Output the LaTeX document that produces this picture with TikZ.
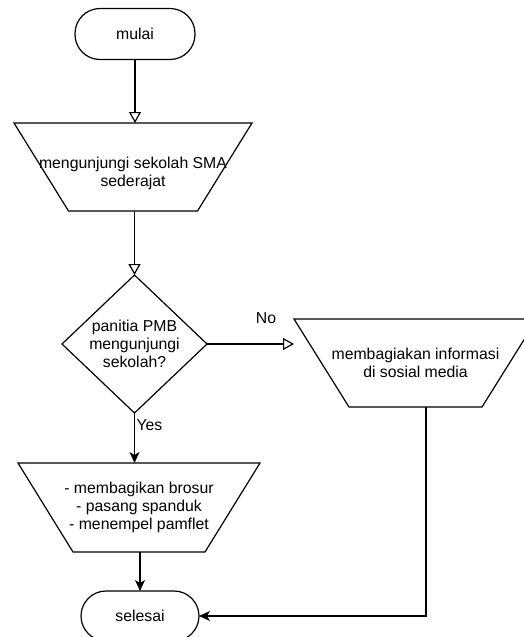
\documentclass[tikz,border=0pt]{standalone}
\usepackage{fontspec}
\setmainfont{Liberation Sans}
\usetikzlibrary{shapes.geometric,arrows.meta}
\newcommand\manualbox[7][]{%
  \begin{scope}[shift={#3}]
    \draw (-#5-#7,-#6) -- (#5+#7,-#6) -- (#5,#6) -- (-#5,#6) -- cycle;
    \coordinate (#2-tl) at (-#5-#7,-#6);
    \coordinate (#2-n) at (0,-#6);
    \coordinate (#2-s) at (0,#6);
    \node[manual,#1] (#2) at (0,0) {#4};
  \end{scope}
}

\begin{document}
\begin{tikzpicture}[x=1pt,y=-1pt,line width=1.2pt,
  font=\fontsize{15.8}{18}\selectfont,
  terminal/.style={draw,rounded corners=25pt,minimum width=120pt,minimum height=51pt,inner sep=0pt,outer sep=0pt},
  manual/.style={inner sep=0pt,outer sep=0pt,align=center},
  decision/.style={draw,shape=diamond,aspect=1.05,minimum width=145pt,minimum height=138pt,inner sep=0pt,outer sep=0pt,align=center},
  openarr/.style={-{Triangle[open,length=11pt,width=12pt]}},
  fillarr/.style={-{Stealth[length=11pt,width=10pt,inset=3pt]}}]
\useasboundingbox (0,0) rectangle (524,637);
\clip (0,0) rectangle (524,637);

\node[terminal] (mulai) at (135,34) {mulai};
\manualbox[yshift=-6pt]{kunjung}{(133,167)}{mengunjungi sekolah SMA\\sederajat}{64.5}{44}{54.5}
\node[decision] (panitia) at (134.5,344) {panitia PMB\\mengunjungi\\sekolah?};
\manualbox{sosmed}{(415.5,363)}{membagiakan informasi\\di sosial media}{66.5}{44}{55}
\manualbox{brosur}{(139,507.5)}{- membagikan brosur\\- pasang spanduk\\- menempel pamflet}{66}{44.5}{55}
\node[terminal,minimum width=118pt,minimum height=50pt] (selesai) at (140,616) {selesai};

\node (no) at (266,318) {No};
\node[anchor=west,inner sep=0pt] (yes) at (136,425) {Yes};

\draw[openarr] (mulai) -- (mulai |- kunjung-n);
\draw[openarr] (panitia.north |- kunjung-s) -- (panitia.north);
\draw[openarr] (panitia.east) -- (panitia.east -| sosmed-tl);
\draw[fillarr] (panitia.south) -- (panitia.south |- brosur-n);
\draw[fillarr] (selesai.north |- brosur-s) -- (selesai.north);
\draw[fillarr] ([xshift=10.5pt]sosmed-s) |- (selesai.east);
\end{tikzpicture}
\end{document}
